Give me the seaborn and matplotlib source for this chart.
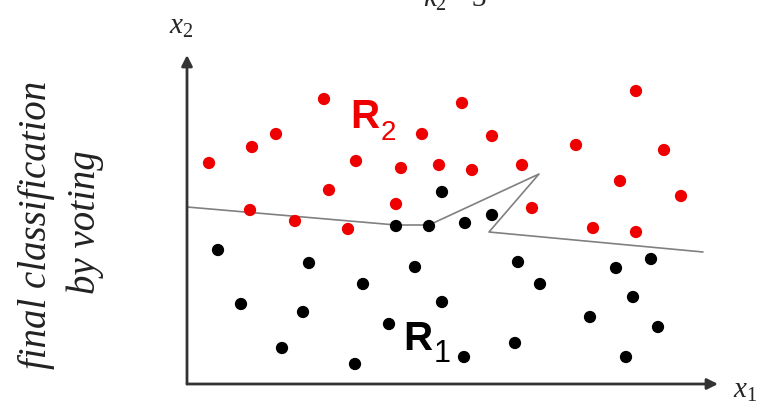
import matplotlib
matplotlib.use("Agg")
import matplotlib.pyplot as plt
import seaborn as sns
import pandas as pd

# points of region R2 (red) and R1 (black), axis origin at (0, 0)
r2_x1 = [2.2, 6.5, 8.9, 13.7, 16.9, 14.2, 21.4, 23.5, 25.2, 27.5, 28.5, 30.5, 33.5,
         34.5, 38.9, 43.3, 44.9, 47.7, 49.4, 40.6, 44.9, 6.3, 10.8, 16.1, 20.9]
r2_x2 = [22.1, 23.7, 25.0, 28.5, 22.3, 19.4, 21.6, 25.0, 21.9, 28.1, 21.4, 24.8, 21.9,
         17.6, 23.9, 20.3, 29.3, 23.4, 18.8, 15.6, 15.2, 17.4, 16.3, 15.5, 18.0]
r1_x1 = [25.5, 20.9, 24.2, 27.8, 30.5, 3.1, 12.2, 22.8, 17.6, 5.4, 11.6, 25.5, 20.2,
         9.5, 16.8, 27.7, 33.1, 35.3, 42.9, 46.4, 44.6, 40.3, 47.1, 32.8, 43.9]
r1_x2 = [19.2, 15.8, 15.8, 16.1, 16.9, 13.4, 12.1, 11.7, 10.0, 8.0, 7.2, 8.2, 6.0,
         3.6, 2.0, 2.7, 12.2, 10.0, 11.6, 12.5, 8.7, 6.7, 5.7, 4.1, 2.7]

# decision boundary from voting
boundary_x1 = [0.0, 20.9, 24.2, 35.2, 30.2, 51.6]
boundary_x2 = [17.7, 15.9, 15.9, 21.0, 15.2, 13.2]

df = pd.DataFrame({
    "x1": r2_x1 + r1_x1,
    "x2": r2_x2 + r1_x2,
    "region": ["R2"] * len(r2_x1) + ["R1"] * len(r1_x1),
})
bd = pd.DataFrame({"x1": boundary_x1, "x2": boundary_x2})

sns.set_style("white")
serif = "Liberation Serif"
plt.rcParams["mathtext.fontset"] = "custom"
plt.rcParams["mathtext.it"] = "Liberation Serif:italic"
plt.rcParams["mathtext.rm"] = "Liberation Serif"

fig = plt.figure(figsize=(7.68, 4.11), dpi=100)
ax = fig.add_axes([0, 0, 1, 1])

sns.lineplot(data=bd, x="x1", y="x2", sort=False, color="#808080",
             linewidth=1.2, ax=ax, zorder=1)
sns.scatterplot(data=df, x="x1", y="x2", hue="region",
                palette={"R2": "#ee0000", "R1": "black"},
                s=78, edgecolor="none", legend=False, ax=ax, zorder=2)

# axes arrows
ax.annotate("", xy=(53.1, 0), xytext=(0, 0),
            arrowprops=dict(arrowstyle="-|>", color="#333333", lw=2,
                            mutation_scale=16, shrinkA=0, shrinkB=0))
ax.annotate("", xy=(0, 32.9), xytext=(0, 0),
            arrowprops=dict(arrowstyle="-|>", color="#333333", lw=2,
                            mutation_scale=16, shrinkA=0, shrinkB=0))

ax.text(54.6, -1.4, r"$x_{\mathit{1}}$", fontsize=21, ha="left", va="baseline")
ax.text(-1.8, 35.0, r"$x_2$", fontsize=21, ha="left", va="baseline")
ax.text(26.8, 37.7, r"$k_2 = 3$", fontsize=21, ha="center", va="baseline")

# region labels
ax.text(16.3, 25.6, "R", color="#ee0000", fontsize=29, fontweight="bold",
        family="Liberation Sans", ha="left", va="baseline")
ax.text(19.4, 24.4, "2", color="#ee0000", fontsize=20,
        family="Liberation Sans", ha="left", va="baseline")
ax.text(21.6, 3.4, "R", color="black", fontsize=29, fontweight="bold",
        family="Liberation Sans", ha="left", va="baseline")
ax.text(24.7, 2.2, "1", color="black", fontsize=22,
        family="Liberation Sans", ha="left", va="baseline")

ax.text(-15.0, 15.9, "final classification", family=serif, style="italic",
        fontsize=28, rotation=90, ha="center", va="center", color="#222222")
ax.text(-10.2, 16.2, "by voting", family=serif, style="italic",
        fontsize=28, rotation=90, ha="center", va="center", color="#222222")

ax.set_xlim(-18.7, 58.1)
ax.set_ylim(-2.7, 38.4)
ax.axis("off")

fig.savefig("out.png", dpi=100)
